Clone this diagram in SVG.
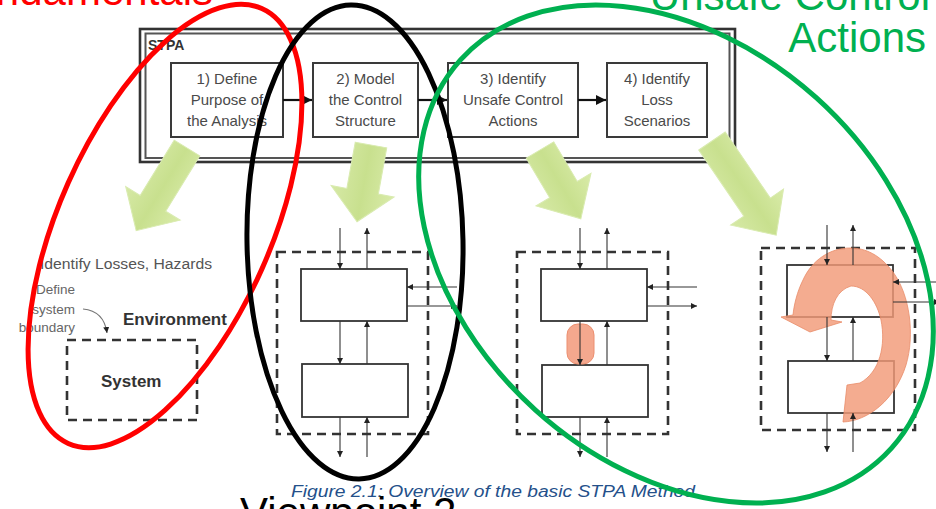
<svg xmlns="http://www.w3.org/2000/svg" width="936" height="509" viewBox="0 0 936 509">
  <defs>
    <style>
      .step { fill: #fff; stroke: #3a3a3a; stroke-width: 2; }
      .steptxt { font-family: "Liberation Sans", Arial, sans-serif; font-size: 15px; fill: #4a4a4a; text-anchor: middle; }
      .dash { fill: none; stroke: #333; stroke-width: 2.6; stroke-dasharray: 9 6; }
      .blk { fill: #fff; stroke: #333; stroke-width: 1.8; }
      .wire { fill: none; stroke: #333; stroke-width: 1.1; marker-end: url(#ah); }
      .flow { fill: none; stroke: #111; stroke-width: 2.2; marker-end: url(#ahb); }
      .bigarrow { fill: url(#lime); stroke: #d9ebb0; stroke-width: 1; }
      .ring { fill: none; stroke-width: 5; }
      .big { font-family: "Liberation Sans", Arial, sans-serif; font-size: 42px; }
    </style>
    <marker id="ah" viewBox="0 0 10 10" refX="10" refY="5" markerUnits="userSpaceOnUse" markerWidth="6" markerHeight="6" orient="auto">
      <path d="M0,0 L10,5 L0,10 Z" fill="#222"/>
    </marker>
    <marker id="ahb" viewBox="0 0 10 10" refX="10" refY="5" markerUnits="userSpaceOnUse" markerWidth="10" markerHeight="10" orient="auto">
      <path d="M0,0 L10,5 L0,10 Z" fill="#111"/>
    </marker>
    <linearGradient id="lime" x1="0" y1="0" x2="1" y2="0">
      <stop offset="0" stop-color="#d6e9a6"/>
      <stop offset="0.5" stop-color="#c8e08e"/>
      <stop offset="1" stop-color="#d9eba9"/>
    </linearGradient>
  </defs>

  <rect width="936" height="509" fill="#fff"/>

  <!-- STPA frame with double border -->
  <g id="stpa-frame">
    <rect x="140" y="29" width="595" height="133" fill="#fff" stroke="#333" stroke-width="2.6"/>
    <rect x="145.5" y="33.5" width="584" height="124.5" fill="none" stroke="#555" stroke-width="2"/>
    <text x="148" y="50" font-family="Liberation Sans, Arial, sans-serif" font-size="14" font-weight="bold" fill="#333">STPA</text>
  </g>

  <g id="step1">
    <rect class="step" x="171" y="63" width="112" height="74"/>
    <text class="steptxt" x="227" y="84">1) Define</text>
    <text class="steptxt" x="227" y="105">Purpose of</text>
    <text class="steptxt" x="227" y="126">the Analysis</text>
  </g>
  <g id="step2">
    <rect class="step" x="313" y="63" width="105" height="74"/>
    <text class="steptxt" x="365.5" y="84">2) Model</text>
    <text class="steptxt" x="365.5" y="105">the Control</text>
    <text class="steptxt" x="365.5" y="126">Structure</text>
  </g>
  <g id="step3">
    <rect class="step" x="448" y="63" width="130" height="74"/>
    <text class="steptxt" x="513" y="84">3) Identify</text>
    <text class="steptxt" x="513" y="105">Unsafe Control</text>
    <text class="steptxt" x="513" y="126">Actions</text>
  </g>
  <g id="step4">
    <rect class="step" x="607" y="63" width="100" height="74"/>
    <text class="steptxt" x="657" y="84">4) Identify</text>
    <text class="steptxt" x="657" y="105">Loss</text>
    <text class="steptxt" x="657" y="126">Scenarios</text>
  </g>

  <!-- panel 1: system boundary -->
  <g id="panel-boundary">
    <text x="40" y="269" font-family="Liberation Sans, Arial, sans-serif" font-size="15.5" fill="#555" textLength="172" lengthAdjust="spacingAndGlyphs">Identify Losses, Hazards</text>
    <g font-family="Liberation Sans, Arial, sans-serif" font-size="13.5" fill="#666" text-anchor="end">
      <text x="75" y="294">Define</text>
      <text x="75" y="314">system</text>
      <text x="75" y="332">boundary</text>
    </g>
    <path d="M83,309 Q104,311 107,333" fill="none" stroke="#777" stroke-width="1.1" marker-end="url(#ah)"/>
    <text x="123" y="325" font-family="Liberation Sans, Arial, sans-serif" font-size="17" font-weight="bold" fill="#333">Environment</text>
    <rect class="dash" x="67" y="340" width="130" height="80"/>
    <text x="101" y="387" font-family="Liberation Sans, Arial, sans-serif" font-size="17" font-weight="bold" fill="#333">System</text>
  </g>

  <!-- panel 2: control structure -->
  <g id="panel-control">
    <rect class="dash" x="277" y="252" width="151" height="182"/>
    <rect class="blk" x="301" y="269" width="106" height="52"/>
    <rect class="blk" x="302" y="364" width="106" height="53"/>
  </g>

  <!-- panel 3: unsafe control action -->
  <g id="panel-uca">
    <rect class="dash" x="517" y="252" width="151" height="182"/>
    <rect class="blk" x="541" y="269" width="106" height="52"/>
    <rect class="blk" x="542" y="365" width="106" height="52"/>
    <rect x="567" y="324" width="27" height="40" rx="11" fill="#f2997a" fill-opacity="0.85" stroke="#ec8f70" stroke-width="1"/>
  </g>

  <!-- panel 4: loss scenario loop -->
  <g id="panel-scenario">
    <rect class="dash" x="761" y="248" width="154" height="182"/>
    <rect class="blk" x="787" y="265" width="106" height="52"/>
    <rect class="blk" x="788" y="361" width="106" height="52"/>
    <path d="M843,422 C868,421 895,400 906,365 C915,335 910,295 893,272 C880,255 866,248 850,248 C830,248 812,260 803,280 C797,292 794,305 793,315 L781,317 L810,332 L842,322 L831,320 C831,305 837,290 851,286 C866,286 877,302 881,320 C886,345 880,372 860,383 L847,385 Z" fill="#f29a78" fill-opacity="0.82" stroke="#e88c68" stroke-width="0.8"/>
  </g>

  <!-- connectors -->
  <g id="connectors">
    <path class="flow" d="M283,100 L312,100"/>
    <path class="flow" d="M418,100 L447,100"/>
    <path class="flow" d="M578,100 L606,100"/>

    <path class="wire" d="M340,228 L340,269"/>
    <path class="wire" d="M367,269 L367,228"/>
    <path class="wire" d="M340,321 L340,364"/>
    <path class="wire" d="M367,364 L367,321"/>
    <path class="wire" d="M340,417 L340,457"/>
    <path class="wire" d="M367,457 L367,417"/>
    <path class="wire" d="M457,287 L407,287"/>
    <path class="wire" d="M407,306 L457,306"/>

    <path class="wire" d="M580,228 L580,269"/>
    <path class="wire" d="M607,269 L607,228"/>
    <path class="wire" d="M580,321 L580,365"/>
    <path class="wire" d="M607,365 L607,321"/>
    <path class="wire" d="M580,417 L580,457"/>
    <path class="wire" d="M607,457 L607,417"/>
    <path class="wire" d="M697,287 L647,287"/>
    <path class="wire" d="M647,306 L697,306"/>

    <path class="wire" d="M827,225 L827,265"/>
    <path class="wire" d="M853,265 L853,225"/>
    <path class="wire" d="M827,317 L827,361"/>
    <path class="wire" d="M853,361 L853,317"/>
    <path class="wire" d="M827,413 L827,452"/>
    <path class="wire" d="M853,452 L853,413"/>
    <path class="wire" d="M936,282 L893,282"/>
    <path class="wire" d="M893,302 L940,302"/>

    <!-- broad green arrows from each step to its panel -->
    <polygon class="bigarrow" points="-15,0 15,0 15,65 32,65 0,97 -32,65 -15,65" transform="translate(187,148) rotate(31.6)"/>
    <polygon class="bigarrow" points="-16,0 16,0 16,47 32,47 0,78 -32,47 -16,47" transform="translate(371,145) rotate(10.3)"/>
    <polygon class="bigarrow" points="-16,0 16,0 16,46 32,46 0,80 -32,46 -16,46" transform="translate(540,150) rotate(-30.7)"/>
    <polygon class="bigarrow" points="-16,0 16,0 16,80 32,80 0,114 -32,80 -16,80" transform="translate(712,141) rotate(-34.3)"/>
  </g>

  <!-- caption and large overlay text -->
  <text x="291" y="497" font-family="Liberation Sans, Arial, sans-serif" font-size="16" font-style="italic" fill="#24508a" textLength="404" lengthAdjust="spacingAndGlyphs">Figure 2.1: Overview of the basic STPA Method</text>
  <text class="big" x="240" y="527" fill="#000">Viewpoint 2</text>

  <g id="highlight-rings">
    <ellipse class="ring" cx="165" cy="226" rx="106" ry="238" transform="rotate(24 165 226)" stroke="#ff0000"/>
    <ellipse class="ring" cx="355" cy="242" rx="108" ry="237" transform="rotate(-1 355 242)" stroke="#000"/>
    <ellipse class="ring" cx="676" cy="254" rx="290" ry="210" transform="rotate(42 676 254)" stroke="#00b050"/>
  </g>

  <text class="big" x="213" y="5" fill="#ff0000" text-anchor="end">Fundamentals</text>
  <g class="big" fill="#00b050" text-anchor="end">
    <text x="930" y="10">Unsafe Control</text>
    <text x="926" y="52">Actions</text>
  </g>
</svg>
